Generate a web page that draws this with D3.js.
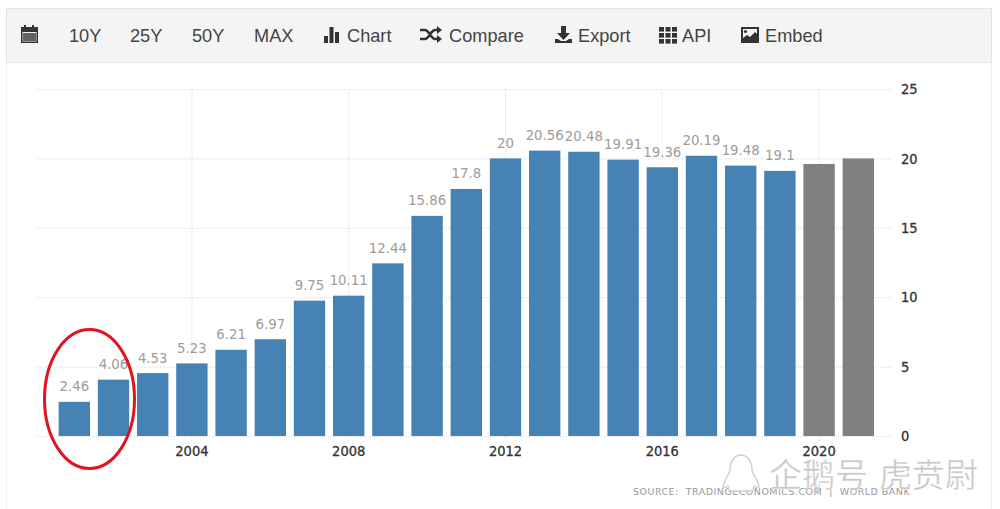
<!DOCTYPE html>
<html>
<head>
<meta charset="utf-8">
<script src="https://cdnjs.cloudflare.com/ajax/libs/d3/7.8.5/d3.min.js"></script>
<style>
  html, body { margin: 0; padding: 0; background: #fff; }
  svg { display: block; }
  .tool { font-family: "Liberation Sans", Arial, sans-serif; font-size: 18.2px; fill: #444; }
  .axis text { font-family: "DejaVu Sans Condensed", "DejaVu Sans", sans-serif; font-size: 14.5px; fill: #333; stroke: #333; stroke-width: 0.3px; }
  .axis path { display: none; }
  .axis line { stroke: #dcdcdc; stroke-dasharray: 1 1; }
  .val { font-family: "DejaVu Sans Condensed", "DejaVu Sans", sans-serif; font-size: 14.8px; fill: #a09b98; text-anchor: middle; }
</style>
</head>
<body>
<svg id="chart" width="1000" height="509"></svg>
<script>
// data
const years = d3.range(2001, 2022);
const values = [2.46, 4.06, 4.53, 5.23, 6.21, 6.97, 9.75, 10.11, 12.44, 15.86, 17.8, 20, 20.56, 20.48, 19.91, 19.36, 20.19, 19.48, 19.1, 19.6, 20];
const valueLabels = ['2.46', '4.06', '4.53', '5.23', '6.21', '6.97', '9.75', '10.11', '12.44', '15.86', '17.8', '20', '20.56', '20.48', '19.91', '19.36', '20.19', '19.48', '19.1'];
const yearTicks = [2004, 2008, 2012, 2016, 2020];
const valueTicks = [0, 5, 10, 15, 20, 25];
const toolLabels = ['10Y', '25Y', '50Y', 'MAX', 'Chart', 'Compare', 'Export', 'API', 'Embed'];
const toolX = [69, 130, 192, 254, 347, 449, 578, 682, 765];

const svg = d3.select('#chart');

// page frame + toolbar
svg.append('path').attr('d', 'M6.5,62V509M991.5,62V509').attr('stroke', '#f0f0f0').attr('fill', 'none');
svg.append('rect').attr('x', 6.5).attr('y', 8.5).attr('width', 985).attr('height', 54)
  .attr('fill', '#f4f4f4').attr('stroke', '#e4e4e4');
svg.selectAll('text.tool').data(toolLabels).enter().append('text')
  .attr('class', 'tool').attr('x', (d, i) => toolX[i]).attr('y', 42).text(d => d);

// toolbar icons
const icons = svg.append('g').attr('fill', '#333');
// calendar
icons.append('path').attr('fill-rule', 'evenodd')
  .attr('d', 'M21,27h3v-2h2v2h6v-2h2v2h4v16h-17zM22.5,32v9.5h14V32z');
icons.append('path').attr('d', 'M23,33h13v8h-13z').attr('opacity', 0.75);
// bars
icons.append('path').attr('d', 'M324,36h4v7h-4zM329.5,27h4v16h-4zM335,32h4v11h-4z');
// shuffle
icons.append('path').attr('fill', 'none').attr('stroke', '#333').attr('stroke-width', 2.6)
  .attr('d', 'M420,30h5c4,0 6,9 10,9h4M420,39h5c4,0 6,-9 10,-9h4');
icons.append('path').attr('d', 'M437,26l5,4l-5,4zM437,35l5,4l-5,4z');
// download
icons.append('path').attr('d', 'M561,26h5v7h4l-6.5,7l-6.5,-7h4zM555,39h3l3,2h5l3,-2h3v4h-17z');
// grid of dots
const dots = d3.range(9);
icons.selectAll('rect.dot').data(dots).enter().append('rect')
  .attr('x', d => 659 + (d % 3) * 6.5).attr('y', d => 27 + Math.floor(d / 3) * 6)
  .attr('width', 5).attr('height', 4.6);
// image
icons.append('path').attr('fill-rule', 'evenodd')
  .attr('d', 'M741,27h18v16h-18zM743,29v9l4,-3l3,2l5,-5l2,2v-5z');
icons.append('circle').attr('cx', 745.5).attr('cy', 31.5).attr('r', 1.6).attr('fill', '#333');

// scales
const x = d3.scaleBand().domain(years).range([54.7, 877.9]).paddingInner(0.2).paddingOuter(0.1);
const y = d3.scaleLinear().domain([0, 25]).range([436, 89]);

// grid comes from the axes
svg.append('g').attr('class', 'axis')
  .attr('transform', 'translate(0,436)')
  .call(d3.axisBottom(x).tickValues(yearTicks).tickSize(6).tickPadding(4).tickSizeOuter(0))
  .call(g => g.selectAll('.tick').append('line').attr('y2', -347));
svg.append('g').attr('class', 'axis')
  .attr('transform', 'translate(891,0)')
  .call(d3.axisRight(y).tickValues(valueTicks).tickSize(0).tickPadding(10))
  .call(g => g.selectAll('.tick').append('line').attr('x2', -856));

// bars
svg.selectAll('rect.bar').data(years).enter().append('rect')
  .attr('class', 'bar')
  .attr('x', d => x(d))
  .attr('y', (d, i) => y(values[i]))
  .attr('width', x.bandwidth())
  .attr('height', (d, i) => y(0) - y(values[i]))
  .attr('fill', d => d >= 2020 ? '#808080' : '#4682b4');

// value labels (forecast bars have none)
svg.selectAll('text.val').data(valueLabels).enter().append('text')
  .attr('class', 'val')
  .attr('x', (d, i) => x(years[i]) + x.bandwidth() / 2)
  .attr('y', (d, i) => y(values[i]) - 10.5)
  .text(d => d);

// source line
svg.append('text').attr('x', 633).attr('y', 495)
  .attr('font-family', '"DejaVu Sans", sans-serif').attr('font-size', 9.5).attr('fill', '#999')
  .attr('letter-spacing', 0.48).style('white-space', 'pre')
  .text('SOURCE:  TRADINGECONOMICS.COM  |  WORLD BANK');

// red hand drawn circle
svg.append('ellipse').attr('cx', 89.5).attr('cy', 399).attr('rx', 45).attr('ry', 69.5)
  .attr('fill', 'none').attr('stroke', '#e0141e').attr('stroke-width', 3);

// watermark
const wm = svg.append('g');
wm.append('path').attr('fill', '#fff').attr('stroke', '#cfcfcf').attr('stroke-width', 1.4)
  .attr('d', 'M741,455c-7,0 -11,7 -11,15c0,4 -7,11 -7,17c2,2 4,-1 5,-1c2,2 -1,4 2,5h22c3,-1 0,-3 2,-5c1,0 3,3 5,1c0,-6 -7,-13 -7,-17c0,-8 -4,-15 -11,-15z');
wm.selectAll('text').data(['企鹅号', '虎贲尉']).enter().append('text')
  .attr('x', (d, i) => i ? 879 : 769).attr('y', 487)
  .attr('font-family', '"Noto Sans CJK SC", sans-serif').attr('font-size', 33)
  .attr('fill', '#c8c8c8').attr('stroke', '#fff').attr('stroke-width', 0.4)
  .text(d => d);
</script>
</body>
</html>
